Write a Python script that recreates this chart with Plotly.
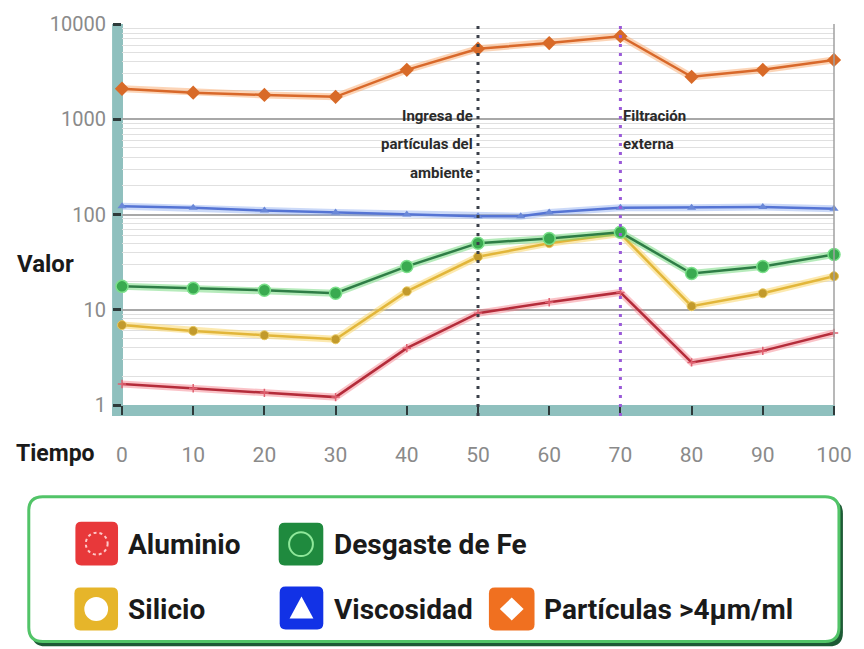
import plotly.graph_objects as go

# --- data -------------------------------------------------------------
tiempo = [0, 10, 20, 30, 40, 50, 60, 70, 80, 90, 100]
aluminio = [1.66, 1.5, 1.34, 1.21, 3.95, 9.2, 12, 15.2, 2.8, 3.7, 5.7]
silicio = [6.9, 6.0, 5.4, 4.9, 15.6, 36, 50, 63, 10.9, 14.9, 22.5]
desgaste_fe = [17.6, 16.8, 16.0, 14.9, 28.5, 50, 56, 65, 24, 28.5, 38]
tiempo_visc = [0, 10, 20, 30, 40, 50, 56, 60, 70, 80, 90, 100]
viscosidad = [122, 118, 110, 105, 100, 96, 96, 105, 118, 118, 120, 115]
particulas = [2090, 1900, 1800, 1720, 3300, 5500, 6300, 7450, 2790, 3300, 4200]

x_ticks = [0, 10, 20, 30, 40, 50, 60, 70, 80, 90, 100]
y_ticks = [1, 10, 100, 1000, 10000]
y_tick_text = ["1", "10", "100", "1000", "10000"]

eventos_x = [50, 70]
evento_ingreso = ["Ingresa de", "partículas del", "ambiente"]
evento_filtro = ["Filtración", "externa"]

leyenda = ["Aluminio", "Desgaste de Fe", "Silicio", "Viscosidad", "Partículas >4μm/ml"]

# --- layout geometry (pixels) -------------------------------------------
W, H = 864, 649
L, R, T, B = 122, 840, 23, 405
FONT = "Roboto, Liberation Sans, sans-serif"


def px(x):
    return (x - L) / (R - L)


def py(y):
    return (B - y) / (B - T)


def rrect(x0, y0, x1, y1, r):
    pts = [
        ("M", [(x0 + r, y0)]), ("L", [(x1 - r, y0)]), ("Q", [(x1, y0), (x1, y0 + r)]),
        ("L", [(x1, y1 - r)]), ("Q", [(x1, y1), (x1 - r, y1)]), ("L", [(x0 + r, y1)]),
        ("Q", [(x0, y1), (x0, y1 - r)]), ("L", [(x0, y0 + r)]), ("Q", [(x0, y0), (x0 + r, y0)]),
    ]
    s = ""
    for cmd, ps in pts:
        s += cmd + " " + " ".join(f"{px(a):.5f},{py(b):.5f}" for a, b in ps) + " "
    return s + "Z"


def poly(points):
    return "M " + " L ".join(f"{px(a):.5f},{py(b):.5f}" for a, b in points) + " Z"


fig = go.Figure()

series = [
    (tiempo, aluminio, "Aluminio", "#b42c3a", "rgba(245,120,130,0.45)",
     dict(symbol="cross-thin", size=6, color="#e06070", line=dict(width=1.5, color="#e06070"))),
    (tiempo, silicio, "Silicio", "#e2b63a", "rgba(250,215,110,0.55)",
     dict(symbol="circle", size=9, color="#c29a2c", line=dict(width=1, color="#e8c860"))),
    (tiempo, desgaste_fe, "Desgaste de Fe", "#2e7d46", "rgba(110,215,120,0.5)",
     dict(symbol="circle", size=12, color="#3aaa50", line=dict(width=1.5, color="#7be08a"))),
    (tiempo_visc, viscosidad, "Viscosidad", "#5574d4", "rgba(140,170,240,0.45)",
     dict(symbol="triangle-up", size=8, color="#6a88d8", line=dict(width=0))),
    (tiempo, particulas, "Partículas >4μm/ml", "#d8682a", "rgba(250,170,110,0.5)",
     dict(symbol="diamond", size=11, color="#d86a28", line=dict(width=0))),
]

for xs, ys, name, core, glow, mk in series:
    fig.add_trace(go.Scatter(x=xs, y=ys, mode="lines", line=dict(color=glow, width=7),
                             hoverinfo="skip", showlegend=False, cliponaxis=False))
    fig.add_trace(go.Scatter(x=xs, y=ys, mode="lines+markers", name=name,
                             line=dict(color=core, width=2.5), marker=mk,
                             showlegend=False, cliponaxis=False))

shapes = []
# teal axis bands
shapes.append(dict(type="rect", xref="paper", yref="paper", x0=px(112), x1=px(R + 1),
                   y0=py(416), y1=py(B), fillcolor="#8fc0be", line=dict(width=0), layer="below"))
shapes.append(dict(type="rect", xref="paper", yref="paper", x0=px(112), x1=px(L + 1),
                   y0=py(416), y1=py(T), fillcolor="#8fc0be", line=dict(width=0), layer="below"))
# right border of the plot area
shapes.append(dict(type="line", xref="paper", yref="paper", x0=1, x1=1, y0=0, y1=1,
                   line=dict(color="#a0a0a0", width=1.5)))

# event markers
for xv, col in zip(eventos_x, ["#3a3f48", "#9a5ad8"]):
    shapes.append(dict(type="line", xref="x", yref="paper", x0=xv, x1=xv, y0=py(416), y1=1,
                       line=dict(color=col, width=3, dash="3px,6px"), layer="above"))

# legend box
shapes.append(dict(type="path", xref="paper", yref="paper", path=rrect(31, 500, 849, 647, 14),
                   fillcolor="#1d5a35", line=dict(width=0)))
shapes.append(dict(type="path", xref="paper", yref="paper", path=rrect(28, 497, 845, 642, 14),
                   fillcolor="white", line=dict(color="#52c468", width=3)))

# legend icons
icons = [
    ((75, 522, 118, 566), "#e8383a"),
    ((280, 523, 325, 566), "#1f8a3e"),
    ((74, 588, 118, 631), "#e6b52a"),
    ((281, 587, 325, 630), "#1232e6"),
    ((492, 588, 538, 631), "#f07020"),
]
for (x0, y0, x1, y1), col in icons:
    shapes.append(dict(type="path", xref="paper", yref="paper", path=rrect(x0, y0, x1, y1, 6),
                       fillcolor=col, line=dict(width=0)))

shapes.append(dict(type="circle", xref="paper", yref="paper", x0=px(85.5), x1=px(107.5),
                   y0=py(555), y1=py(533), line=dict(color="rgba(255,210,210,0.95)", width=2, dash="dot")))
shapes.append(dict(type="circle", xref="paper", yref="paper", x0=px(290.5), x1=px(314.5),
                   y0=py(556.5), y1=py(532.5), line=dict(color="#8fe89a", width=2)))
shapes.append(dict(type="circle", xref="paper", yref="paper", x0=px(84), x1=px(108),
                   y0=py(621.5), y1=py(597.5), fillcolor="white", line=dict(width=0)))
shapes.append(dict(type="path", xref="paper", yref="paper",
                   path=poly([(303, 597), (291, 619), (315, 619)]), fillcolor="white", line=dict(width=0)))
shapes.append(dict(type="path", xref="paper", yref="paper",
                   path=poly([(515, 598), (527, 609.5), (515, 621), (503, 609.5)]),
                   fillcolor="white", line=dict(width=0)))

annotations = []
for i, t in enumerate(evento_ingreso):
    annotations.append(dict(x=eventos_x[0], xref="x", xanchor="right", xshift=-3,
                            y=py(115 + 28.5 * i), yref="paper", yanchor="middle", text=f"<b>{t}</b>",
                            showarrow=False, font=dict(family=FONT, size=15, color="#2a2a2a")))
for i, t in enumerate(evento_filtro):
    annotations.append(dict(x=eventos_x[1], xref="x", xanchor="left", xshift=1,
                            y=py(115 + 28 * i), yref="paper", yanchor="middle", text=f"<b>{t}</b>",
                            showarrow=False, font=dict(family=FONT, size=15, color="#2a2a2a")))

annotations.append(dict(x=px(45), y=py(264), xref="paper", yref="paper", text="<b>Valor</b>",
                        showarrow=False, xanchor="center", yanchor="middle",
                        font=dict(family=FONT, size=24, color="#1a1a1a")))
annotations.append(dict(x=px(55), y=py(454), xref="paper", yref="paper", text="<b>Tiempo</b>",
                        showarrow=False, xanchor="center", yanchor="middle",
                        font=dict(family=FONT, size=23, color="#1a1a1a")))

leg_pos = [(126, 545), (334, 545), (126, 610), (334, 610), (546, 610)]
for t, (lx, ly) in zip(leyenda, leg_pos):
    annotations.append(dict(x=px(lx), y=py(ly), xref="paper", yref="paper", text=f"<b>{t}</b>",
                            showarrow=False, xanchor="left", yanchor="middle",
                            font=dict(family=FONT, size=28, color="#1a1a1a")))

fig.update_layout(
    width=W, height=H,
    margin=dict(l=L, r=W - R, t=T, b=H - B, pad=0),
    paper_bgcolor="white", plot_bgcolor="white",
    showlegend=False,
    shapes=shapes, annotations=annotations,
    xaxis=dict(range=[0, 100], tickvals=x_ticks, ticks="outside", ticklen=9, tickwidth=2,
               tickcolor="#2e3a3a", showgrid=False, zeroline=False, showline=False,
               ticklabelstandoff=22,
               tickfont=dict(family=FONT, size=21, color="#8a8a8a")),
    yaxis=dict(type="log", range=[0, 4], tickvals=y_ticks, ticktext=y_tick_text,
               ticks="outside", ticklen=8, tickwidth=2.5, tickcolor="#2e3a3a",
               showgrid=True, gridcolor="#a8a8a8", gridwidth=1.8, zeroline=False, showline=False,
               ticklabelstandoff=3,
               minor=dict(dtick="D1", showgrid=True, gridcolor="#e0e0e0", gridwidth=1, ticks=""),
               tickfont=dict(family=FONT, size=20, color="#8a8a8a")),
)

fig.write_html("out.html")
